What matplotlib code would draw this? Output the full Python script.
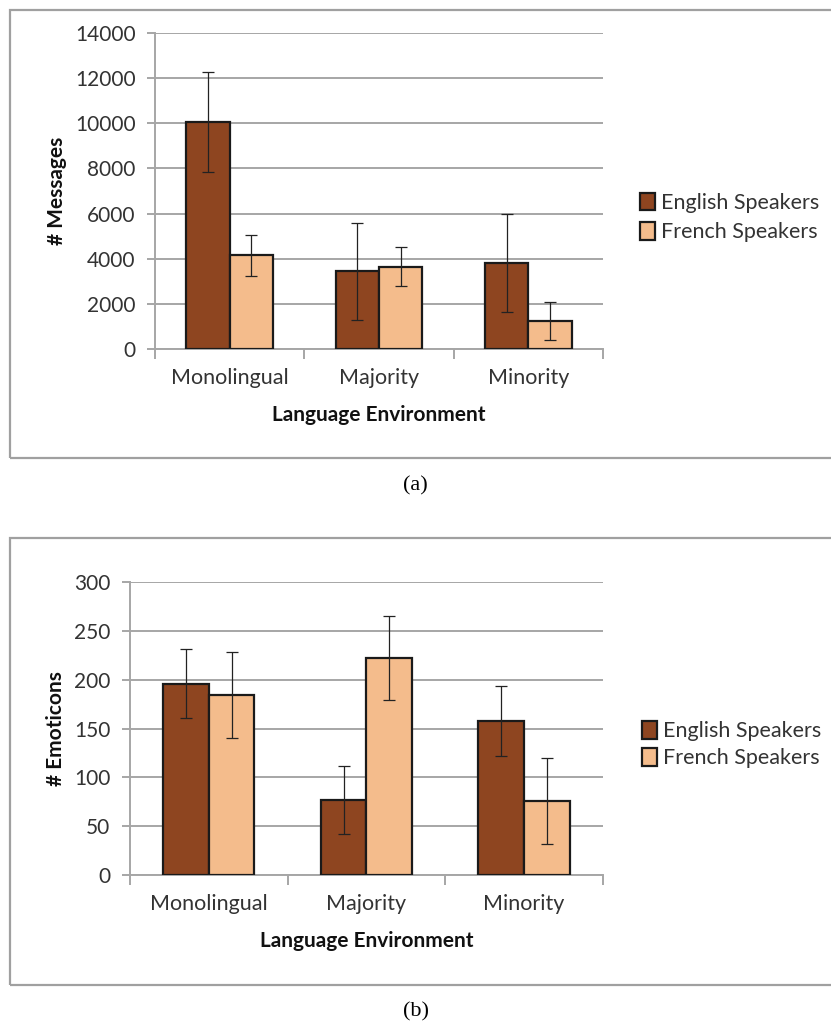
import numpy as np
import matplotlib.pyplot as plt
from matplotlib.patches import Rectangle

categories = ["Monolingual", "Majority", "Minority"]
series = ["English Speakers", "French Speakers"]

msg_english = [10050, 3450, 3800]
msg_french = [4150, 3650, 1250]
msg_english_err = [2200, 2150, 2180]
msg_french_err = [920, 880, 850]

emo_english = [196, 77, 158]
emo_french = [184, 222, 76]
emo_english_err = [35, 35, 36]
emo_french_err = [44, 43, 44]

brown = "#8e4520"
peach = "#f4bc8c"
grid_col = "#a6a6a6"
txt_col = "#333333"

plt.rcParams['font.family'] = ['Lato', 'DejaVu Sans']

fig = plt.figure(figsize=(8.31, 10.28), dpi=100)

# panel frames
for y0, y1 in [(0.5545, 0.990), (0.0418, 0.4767)]:
    fig.patches.append(Rectangle((0.012, y0), 1.2, y1 - y0, transform=fig.transFigure,
                                 fill=False, edgecolor="#a0a0a0", linewidth=1.6))

fig.text(0.5, 1 - 486 / 1028, "(a)", ha="center", va="center",
         family="Liberation Serif", fontsize=16)
fig.text(0.5, 1 - 1012 / 1028, "(b)", ha="center", va="center",
         family="Liberation Serif", fontsize=16)


def panel(rect, eng, fr, eng_err, fr_err, ymax, ystep, ylabel, leg_pos, spacing):
    ax = fig.add_axes(rect)
    x = np.arange(len(categories))
    w = 0.29
    ax.bar(x - w / 2, eng, w, color=brown, edgecolor="#1a1a1a", linewidth=1.6,
           label=series[0], zorder=3)
    ax.bar(x + w / 2, fr, w, color=peach, edgecolor="#1a1a1a", linewidth=1.6,
           label=series[1], zorder=3)
    ax.errorbar(x - w / 2, eng, yerr=eng_err, fmt="none", ecolor="#222222",
                elinewidth=0.9, capsize=4, capthick=0.9, zorder=4)
    ax.errorbar(x + w / 2, fr, yerr=fr_err, fmt="none", ecolor="#222222",
                elinewidth=0.9, capsize=4, capthick=0.9, zorder=4)
    ax.set_xlim(-0.5, len(categories) - 0.5)
    ax.set_ylim(0, ymax)
    ax.set_yticks(np.arange(0, ymax + 1, ystep))
    ax.yaxis.grid(True, color=grid_col, linewidth=1.4, zorder=0)
    ax.set_axisbelow(True)
    for s in ["top", "right"]:
        ax.spines[s].set_visible(False)
    for s in ["left", "bottom"]:
        ax.spines[s].set_color(grid_col)
        ax.spines[s].set_linewidth(1.4)
    ax.set_xticks(np.arange(-0.5, len(categories), 1.0))
    ax.set_xticklabels([])
    ax.set_xticks(x, minor=True)
    ax.set_xticklabels(categories, minor=True, fontsize=15.5, color=txt_col)
    ax.tick_params(axis="x", which="major", length=7, color=grid_col, width=1.4)
    ax.tick_params(axis="x", which="minor", length=0, pad=14)
    ax.tick_params(axis="y", length=6, color=grid_col, width=1.4, labelsize=15,
                   labelcolor=txt_col, pad=8)
    ax.set_xlabel("Language Environment", fontsize=15, fontweight="bold",
                  labelpad=12, color="#111111")
    ax.set_ylabel(ylabel, fontsize=15, fontweight="bold", labelpad=6,
                  color="#111111")
    fig.legend(*ax.get_legend_handles_labels(), loc="center left",
               bbox_to_anchor=leg_pos, bbox_transform=fig.transFigure,
               frameon=False, fontsize=15.5, handlelength=0.7, handleheight=0.9,
               handletextpad=0.3, labelspacing=spacing, labelcolor=txt_col,
               borderpad=0, borderaxespad=0)
    return ax


panel([0.1865, 0.6605, 0.539, 0.3074], msg_english, msg_french,
      msg_english_err, msg_french_err, 14000, 2000, "# Messages",
      (0.770, 1 - 217.5 / 1028), 0.42)
panel([0.1564, 0.1488, 0.569, 0.285], emo_english, emo_french,
      emo_english_err, emo_french_err, 300, 50, "# Emoticons",
      (0.772, 1 - 744.5 / 1028), 0.3)

fig.savefig("out.png", dpi=100)
